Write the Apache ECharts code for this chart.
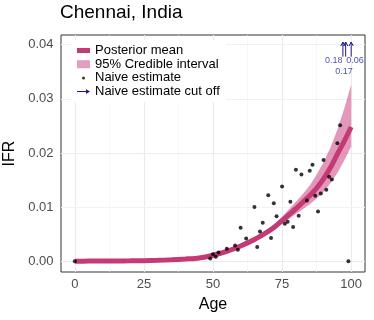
<!DOCTYPE html>
<html>
<head>
<meta charset="utf-8">
<script src="https://cdn.jsdelivr.net/npm/echarts@6/dist/echarts.min.js"></script>
<style>
  html, body { margin: 0; padding: 0; background: #fff; }
  #chart { width: 374px; height: 320px; }
</style>
</head>
<body>
<div id="chart"></div>
<script>
// posterior curve
var curveAge = [0, 5, 10, 15, 20, 25, 30, 35, 40, 45, 50, 55, 60, 65, 70, 72.5, 75, 77.5, 80, 82.5, 85, 87.5, 90, 92.5, 95, 97.5, 100];
var meanIFR = [0, 0.00001, 0.00002, 0.00004, 0.00006, 0.0001, 0.00015, 0.00025, 0.0004, 0.0006, 0.0011, 0.0018, 0.0028, 0.004, 0.0055, 0.0064, 0.0075, 0.0086, 0.0097, 0.0109, 0.0121, 0.0135, 0.0152, 0.0173, 0.0198, 0.0222, 0.0248];
var lowerIFR = [0, 0.00001, 0.00002, 0.00003, 0.00005, 0.00008, 0.00012, 0.0002, 0.00036, 0.00056, 0.00102, 0.0017, 0.0026, 0.0038, 0.0052, 0.006, 0.0069, 0.0078, 0.0087, 0.0096, 0.0105, 0.0116, 0.0128, 0.0144, 0.0163, 0.0186, 0.0212];
var upperIFR = [0, 0.00001, 0.00002, 0.00005, 0.00007, 0.00012, 0.00018, 0.0003, 0.00045, 0.00066, 0.00118, 0.0019, 0.003, 0.0042, 0.0058, 0.0069, 0.0082, 0.0096, 0.011, 0.0124, 0.014, 0.016, 0.0183, 0.021, 0.0243, 0.0282, 0.0326];

// naive estimates (dots)
var naiveAge = [0, 49, 50, 51, 52, 55, 58, 59, 60, 62, 65, 66, 67, 68, 70, 71, 72, 73, 75, 76, 77, 78, 79, 80, 81, 82, 84, 85, 86, 87, 88, 89, 90, 91, 92, 93, 95, 96, 99];
var naiveIFR = [0, 0.0005, 0.0013, 0.0008, 0.0016, 0.0023, 0.0029, 0.0021, 0.0062, 0.0042, 0.01, 0.0026, 0.0055, 0.0071, 0.0122, 0.0043, 0.0107, 0.0083, 0.0138, 0.0069, 0.0073, 0.011, 0.0063, 0.0169, 0.0084, 0.016, 0.0112, 0.0167, 0.0178, 0.0121, 0.0092, 0.0125, 0.0187, 0.0132, 0.0156, 0.0151, 0.0218, 0.0251, 0];

// naive estimates above the axis: arrows and their values
var cutAge = [97, 98, 100];
var cutText = ['0.18', '0.17', '0.06'];
var cutFrom = 0.0378, cutTo = 0.0405;
var cutLabelAge = [93.7, 97.4, 101.4];
var cutLabelIFR = [0.037, 0.035, 0.037];

var xMajor = [0, 25, 50, 75, 100];
var xMinor = [12.5, 37.5, 62.5, 87.5];
var yMajor = [0, 0.01, 0.02, 0.03, 0.04];
var yMinor = [0.005, 0.015, 0.025, 0.035];

var font = 'Liberation Sans';
var cutColor = '#1a1a8c';
var chart = echarts.init(document.getElementById('chart'));

function pairs(xs, ys) {
  return xs.map(function (x, i) { return [x, ys[i]]; });
}

var gridLines = [];
xMajor.forEach(function (v) { gridLines.push({ xAxis: v, lineStyle: { color: '#ebebeb', width: 1.1, type: 'solid' } }); });
xMinor.forEach(function (v) { gridLines.push({ xAxis: v, lineStyle: { color: '#f3f3f3', width: 0.6, type: 'solid' } }); });
yMajor.forEach(function (v) { gridLines.push({ yAxis: v, lineStyle: { color: '#ebebeb', width: 1.1, type: 'solid' } }); });
yMinor.forEach(function (v) { gridLines.push({ yAxis: v, lineStyle: { color: '#f3f3f3', width: 0.6, type: 'solid' } }); });

// ribbon polygon: upper edge left to right, then lower edge back
function renderRibbon(params, api) {
  var pts = [];
  for (var i = 0; i < curveAge.length; i++) pts.push(api.coord([curveAge[i], upperIFR[i]]));
  for (var j = curveAge.length - 1; j >= 0; j--) pts.push(api.coord([curveAge[j], lowerIFR[j]]));
  return {
    type: 'polygon',
    shape: { points: pts },
    style: { fill: 'rgba(200,50,120,0.5)', stroke: null }
  };
}

function renderArrow(params, api) {
  var a = api.value(0);
  var base = api.coord([a, cutFrom]);
  var tip = api.coord([a, cutTo]);
  var st = { stroke: cutColor, lineWidth: 1, fill: null };
  return {
    type: 'group',
    children: [
      { type: 'line', shape: { x1: base[0], y1: base[1], x2: tip[0], y2: tip[1] }, style: st },
      { type: 'polyline', shape: { points: [[tip[0] - 2.2, tip[1] + 4], tip, [tip[0] + 2.2, tip[1] + 4]] }, style: st }
    ]
  };
}

var option = {
  animation: false,
  backgroundColor: '#fff',
  textStyle: { fontFamily: font },
  title: {
    text: 'Chennai, India',
    left: 60, top: 3, padding: 0,
    textStyle: { fontFamily: font, fontSize: 19, fontWeight: 'normal', color: '#000' }
  },
  grid: {
    left: 61, top: 35, width: 304, height: 237,
    outerBoundsMode: 'none', containLabel: false,
    show: true, backgroundColor: '#fff', borderColor: '#333', borderWidth: 1
  },
  legend: {
    orient: 'vertical',
    left: 71, top: 40,
    padding: [4, 6, 4, 6],
    backgroundColor: '#fff',
    itemWidth: 13, itemHeight: 9, itemGap: 0.7,
    selectedMode: false,
    textStyle: { fontFamily: font, fontSize: 13, color: '#000', lineHeight: 13 },
    data: [
      { name: 'Posterior mean', icon: 'path://M0,0h13v5h-13z', itemStyle: { color: '#c43a74' } },
      { name: '95% Credible interval', icon: 'path://M0,0h13v8h-13z', itemStyle: { color: '#e39ebf' } },
      { name: 'Naive estimate', icon: 'path://M0,0M13,9M5,4.5a1.5,1.5 0 1,0 3,0a1.5,1.5 0 1,0 -3,0z', itemStyle: { color: '#000' } },
      { name: 'Naive estimate cut off', icon: 'path://M0,0M0,4h10v1h-10z M9,2.2L13,4.5L9,6.8z M13,9', itemStyle: { color: cutColor } }
    ]
  },
  xAxis: {
    type: 'value', min: -5, max: 105,
    axisLine: { show: false },
    axisTick: { show: true, length: 4, lineStyle: { color: '#333' }, customValues: xMajor },
    axisLabel: { color: '#4d4d4d', fontSize: 13, margin: 6, fontFamily: font, customValues: xMajor },
    splitLine: { show: false },
    name: 'Age', nameLocation: 'middle', nameGap: 25,
    nameTextStyle: { fontFamily: font, fontSize: 16, color: '#000' }
  },
  yAxis: {
    type: 'value', min: -0.002, max: 0.0418,
    axisLine: { show: false },
    axisTick: { show: true, length: 4, lineStyle: { color: '#333' }, customValues: yMajor },
    axisLabel: {
      color: '#4d4d4d', fontSize: 13, margin: 7.5, fontFamily: font, customValues: yMajor,
      formatter: function (v) { return v.toFixed(2); }
    },
    splitLine: { show: false },
    name: 'IFR', nameLocation: 'middle', nameGap: 33, nameRotate: 90,
    nameTextStyle: { fontFamily: font, fontSize: 16, color: '#000' }
  },
  series: [
    {
      name: 'grid', type: 'line', data: [], z: 1, silent: true,
      markLine: { z: 1, silent: true, symbol: ['none', 'none'], label: { show: false }, animation: false, data: gridLines }
    },
    {
      name: '95% Credible interval', type: 'custom', z: 2, silent: true,
      renderItem: renderRibbon, data: [[curveAge[0], lowerIFR[0]]],
      itemStyle: { color: '#e39ebf' }
    },
    {
      name: 'Posterior mean', type: 'line', smooth: 0.3, z: 3,
      data: pairs(curveAge, meanIFR), symbol: 'none',
      lineStyle: { color: '#c43a74', width: 5 }, itemStyle: { color: '#c43a74' }
    },
    {
      name: 'Naive estimate', type: 'scatter', z: 4,
      data: pairs(naiveAge, naiveIFR), symbolSize: 4,
      itemStyle: { color: '#000' }
    },
    {
      name: 'Naive estimate cut off', type: 'custom', z: 5, silent: true,
      renderItem: renderArrow, data: cutAge.map(function (a) { return [a, cutTo]; }),
      itemStyle: { color: cutColor }
    },
    {
      name: 'cut off values', type: 'scatter', z: 5, silent: true,
      data: cutLabelAge.map(function (a, i) { return [a, cutLabelIFR[i], cutText[i]]; }),
      symbolSize: 0,
      label: {
        show: true, position: 'inside', color: '#2424a0', fontSize: 9, fontFamily: font,
        formatter: function (p) { return p.value[2]; }
      }
    }
  ]
};

chart.setOption(option);
</script>
</body>
</html>
